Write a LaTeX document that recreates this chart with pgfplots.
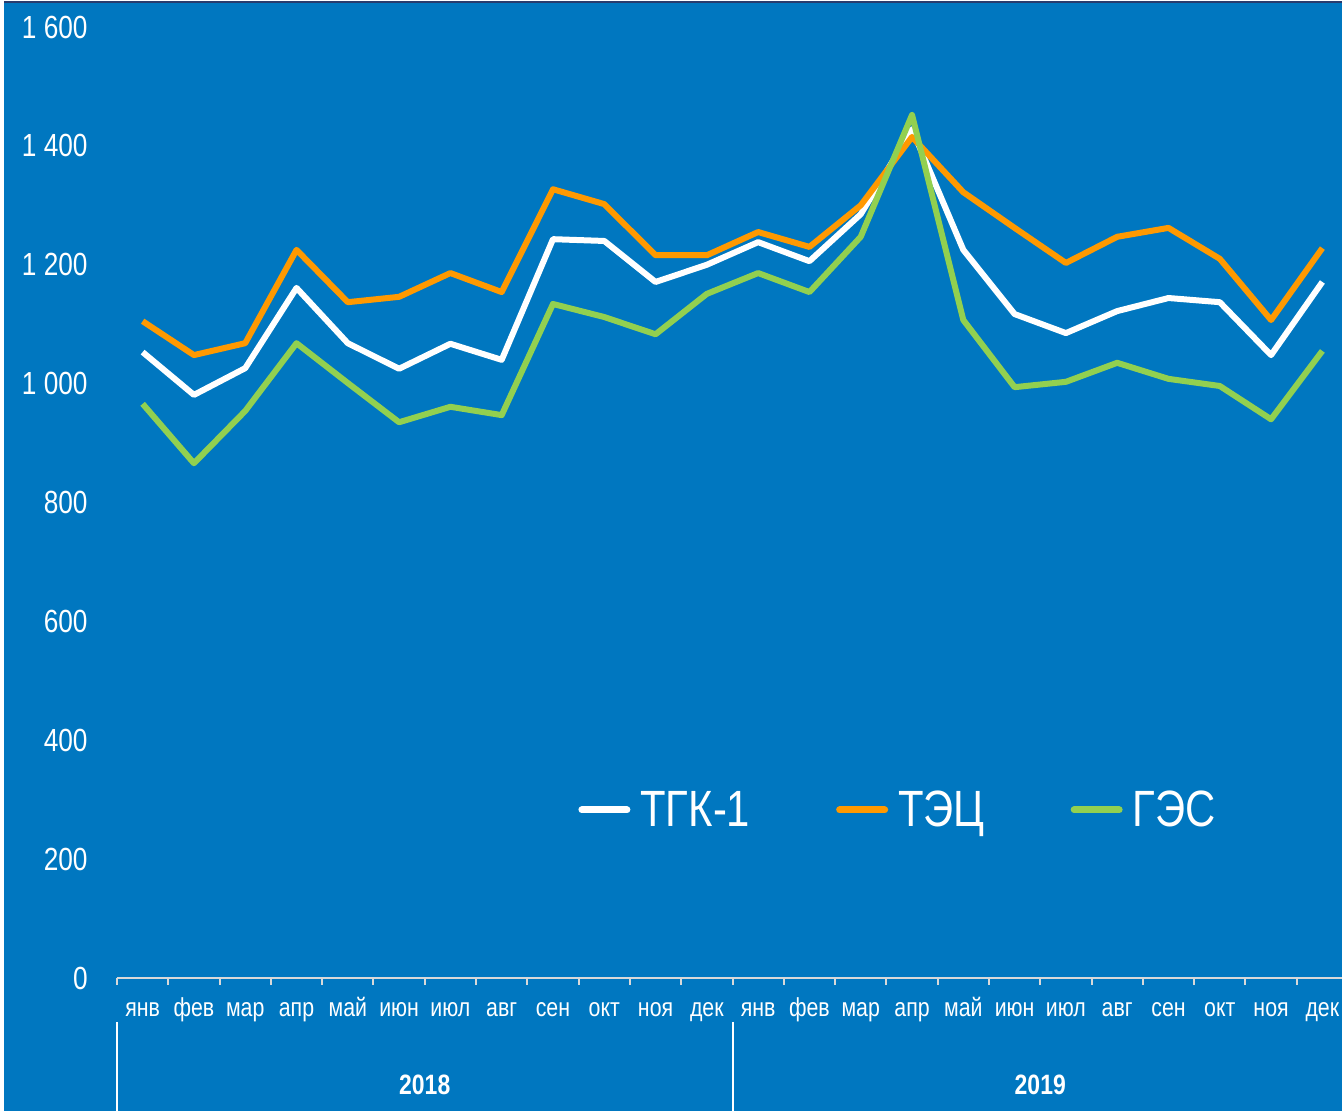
\documentclass[border=0pt]{standalone}
\usepackage{fontspec}
\setmainfont{Liberation Sans}[FakeStretch=0.82]
\usepackage{pgfplots}
\pgfplotsset{compat=1.18}
\definecolor{bg}{RGB}{0,119,192}
\definecolor{tec}{RGB}{255,153,0}
\definecolor{ges}{RGB}{146,208,80}
\definecolor{axgray}{RGB}{217,217,217}
\definecolor{navy}{RGB}{40,60,110}
\begin{document}
\begin{tikzpicture}
\useasboundingbox (-58.5pt,-66.5pt) rectangle (612.5pt,489pt);
\fill[white] (-58.5pt,-66.5pt) rectangle (612.5pt,489pt);
\fill[bg] (-56.5pt,-66.5pt) rectangle (612.5pt,487.5pt);
\fill[navy] (-56.5pt,487.5pt) rectangle (612.5pt,488.5pt);
\begin{axis}[
  at={(0pt,0pt)}, anchor=south west,
  scale only axis, width=615.5pt, height=475.5pt,
  xmin=-0.5, xmax=23.5, ymin=0, ymax=1600,
  clip=false,
  axis x line*=bottom, axis y line*=left,
  y axis line style={draw=none},
  x axis line style={axgray, line width=1pt},
  ytick={0,200,...,1600},
  ytick style={draw=none},
  /pgf/number format/assume math mode=true,
  /pgf/number format/1000 sep={~},
  yticklabel style={font=\fontsize{16}{18}\selectfont, text=white, anchor=east, inner sep=0pt, xshift=-14.5pt},
  xtick={0,...,23},
  xticklabels={янв,фев,мар,апр,май,июн,июл,авг,сен,окт,ноя,дек,янв,фев,мар,апр,май,июн,июл,авг,сен,окт,ноя,дек},
  major tick length=0pt,
  minor xtick={-0.5,0.5,...,23.5},
  minor tick length=3.5pt,
  tick align=outside,
  minor x tick style={axgray, line width=1pt},
  xticklabel style={font=\fontsize{13}{15}\selectfont, text=white, anchor=base, inner sep=0pt, yshift=-19.5pt},
  legend columns=3,
  legend style={at={(0.3745,0.1767)}, anchor=west, draw=none, fill=none, inner sep=0pt,
    font=\fontsize{25.5}{29}\selectfont, text=white,
    nodes={inner sep=0pt},
    /tikz/every odd column/.append style={column sep=5pt},
    /tikz/every even column/.append style={column sep=43pt}},
  legend image code/.code={\draw[#1, line width=3.5pt, line cap=round] (0pt,0pt) -- (22.5pt,0pt);},
  every axis plot/.append style={line width=3pt, line join=round, no markers},
]
\addplot[white] coordinates {
(0,1053) (1,981) (2,1026) (3,1161) (4,1068) (5,1025) (6,1067) (7,1040) (8,1243) (9,1240) (10,1171) (11,1200)
(12,1238) (13,1206) (14,1285) (15,1428) (16,1225) (17,1117) (18,1085) (19,1122) (20,1144) (21,1137) (22,1048) (23,1171)};
\addlegendentry{ТГК-1}
\addplot[tec] coordinates {
(0,1105) (1,1048) (2,1068) (3,1225) (4,1137) (5,1146) (6,1186) (7,1154) (8,1327) (9,1302) (10,1216) (11,1216)
(12,1255) (13,1230) (14,1300) (15,1415) (16,1322) (17,1262) (18,1203) (19,1247) (20,1262) (21,1210) (22,1107) (23,1228)};
\addlegendentry{ТЭЦ}
\addplot[ges] coordinates {
(0,966) (1,866) (2,954) (3,1068) (4,1001) (5,935) (6,961) (7,947) (8,1134) (9,1112) (10,1083) (11,1151)
(12,1186) (13,1154) (14,1247) (15,1452) (16,1107) (17,994) (18,1003) (19,1035) (20,1008) (21,996) (22,940) (23,1055)};
\addlegendentry{ГЭС}
\draw[white, line width=1pt] (axis cs:-0.5,0) ++(0pt,-22pt) -- ++(0pt,-44.5pt);
\draw[white, line width=1pt] (axis cs:11.5,0) ++(0pt,-22pt) -- ++(0pt,-44.5pt);
\node[font=\bfseries\fontsize{14}{16}\selectfont, text=white, anchor=base, inner sep=0pt] at (axis cs:5.5,0) [yshift=-58.5pt] {2018};
\node[font=\bfseries\fontsize{14}{16}\selectfont, text=white, anchor=base, inner sep=0pt] at (axis cs:17.5,0) [yshift=-58.5pt] {2019};
\end{axis}
\end{tikzpicture}
\end{document}
